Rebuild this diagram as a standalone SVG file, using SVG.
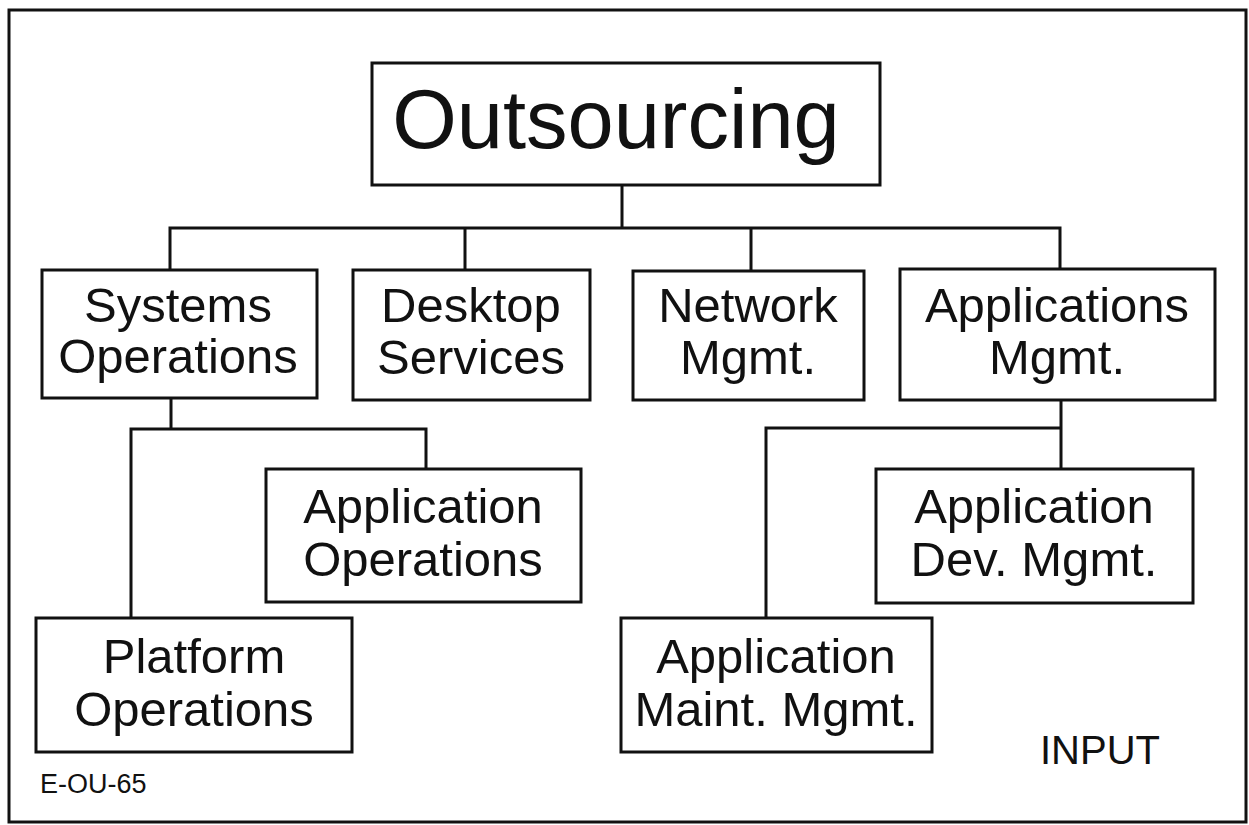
<svg xmlns="http://www.w3.org/2000/svg" width="1249" height="825" viewBox="0 0 1249 825">
<style>
.box{fill:#fff;stroke:#111;stroke-width:3}
.ln{fill:none;stroke:#111;stroke-width:3;stroke-linecap:square}
.t{font-family:"Liberation Sans",Arial,sans-serif;font-size:49px;fill:#111;text-anchor:middle}
.big{font-size:83px}
.sm{font-family:"Liberation Sans",Arial,sans-serif;font-size:27px;fill:#111}
.in{font-family:"Liberation Sans",Arial,sans-serif;font-size:40px;fill:#111}
</style>
<rect x="0" y="0" width="1249" height="825" fill="#fff"/>
<rect x="9" y="10" width="1237" height="812" fill="none" stroke="#111" stroke-width="3"/>
<g id="connectors">
<path class="ln" d="M622 185V228M170 228H1060M170 228V270M465 228V270M751 228V270M1060 228V270"/>
<path class="ln" d="M171 398V429M131 429H426M426 429V469M131 429V618"/>
<path class="ln" d="M1061 400V469M766 428H1061M766 428V618"/>
</g>
<g id="outsourcing">
<rect class="box" x="372" y="63" width="508" height="122"/>
<text class="t big" x="616" y="148">Outsourcing</text>
</g>
<g id="systems-operations">
<rect class="box" x="42" y="270" width="275" height="128"/>
<text class="t" x="178" y="322">Systems</text>
<text class="t" x="178" y="373">Operations</text>
</g>
<g id="desktop-services">
<rect class="box" x="353" y="270" width="237" height="130"/>
<text class="t" x="471" y="322">Desktop</text>
<text class="t" x="471" y="374">Services</text>
</g>
<g id="network-mgmt">
<rect class="box" x="633" y="271" width="231" height="129"/>
<text class="t" x="748" y="322">Network</text>
<text class="t" x="748" y="374">Mgmt.</text>
</g>
<g id="applications-mgmt">
<rect class="box" x="900" y="269" width="315" height="131"/>
<text class="t" x="1057" y="322">Applications</text>
<text class="t" x="1057" y="374">Mgmt.</text>
</g>
<g id="application-operations">
<rect class="box" x="266" y="469" width="315" height="133"/>
<text class="t" x="423" y="523">Application</text>
<text class="t" x="423" y="576">Operations</text>
</g>
<g id="platform-operations">
<rect class="box" x="36" y="618" width="316" height="134"/>
<text class="t" x="194" y="673">Platform</text>
<text class="t" x="194" y="726">Operations</text>
</g>
<g id="application-dev-mgmt">
<rect class="box" x="876" y="469" width="317" height="134"/>
<text class="t" x="1034" y="523">Application</text>
<text class="t" x="1034" y="576">Dev. Mgmt.</text>
</g>
<g id="application-maint-mgmt">
<rect class="box" x="621" y="618" width="311" height="134"/>
<text class="t" x="776" y="673">Application</text>
<text class="t" x="776" y="726">Maint. Mgmt.</text>
</g>
<text class="in" x="1040" y="764">INPUT</text>
<text class="sm" x="40" y="793">E-OU-65</text>
</svg>
